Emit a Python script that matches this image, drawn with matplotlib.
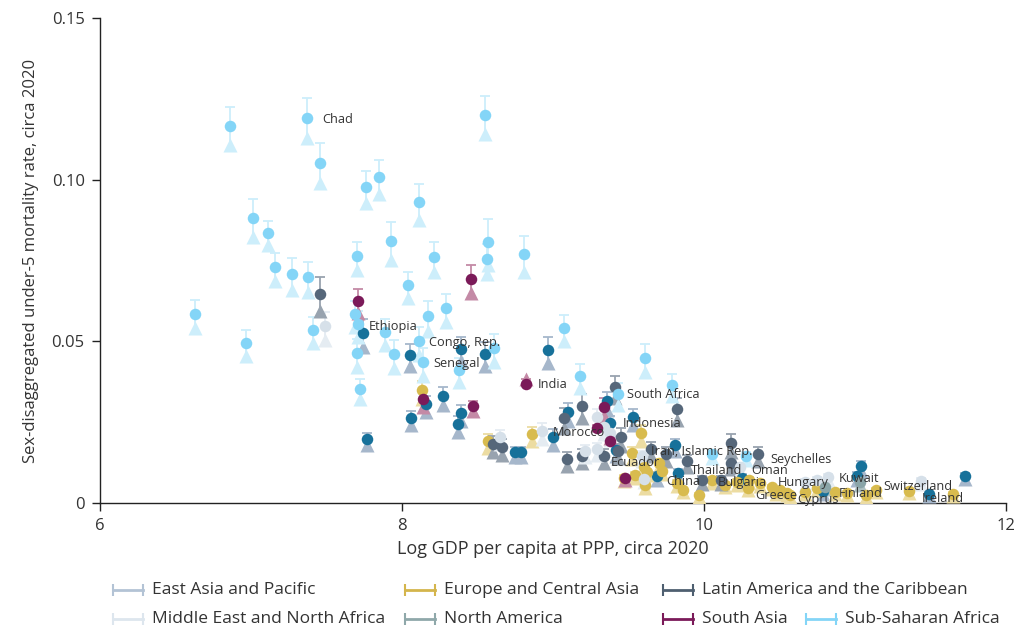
import matplotlib
matplotlib.use('Agg')
import matplotlib.pyplot as plt
from matplotlib.lines import Line2D
import numpy as np

plt.rcParams['font.family'] = ['Open Sans', 'DejaVu Sans']

# ---- data: log GDP per capita, circle (male) and triangle (female) rates ----
ssa_gdp = [6.63, 6.86, 6.97, 7.01, 7.11, 7.16, 7.27, 7.37, 7.38, 7.41, 7.46, 7.69, 7.70, 7.70,
           7.71, 7.72, 7.76, 7.85, 7.89, 7.93, 7.95, 8.04, 8.11, 8.11, 8.14, 8.17, 8.21, 8.29,
           8.38, 8.55, 8.56, 8.57, 8.61, 8.81, 9.07, 9.18, 9.43, 9.61, 9.79, 10.05, 10.28]
ssa_male = [.0585, .1166, .0495, .0882, .0835, .0730, .0708, .1191, .0699, .0535, .1052, .0585,
            .0764, .0464, .0554, .0353, .0977, .1008, .0529, .0810, .0461, .0674, .0931, .0501,
            .0436, .0578, .0761, .0603, .0411, .1200, .0755, .0807, .0479, .0770, .0541, .0393,
            .0337, .0449, .0365, .0152, .0145]
ssa_female = [.0541, .1107, .0455, .0823, .0798, .0687, .0659, .1129, .0653, .0495, .0990, .0544,
              .0721, .0421, .0513, .0322, .0928, .0956, .0489, .0752, .0418, .0634, .0875, .0458,
              .0393, .0532, .0714, .0560, .0374, .1141, .0708, .0736, .0436, .0714, .0501, .0356,
              .0303, .0405, .0331, .0139, .0133]

lac_gdp = [7.46, 9.19, 9.07, 8.60, 8.66, 9.09, 9.19, 9.41, 9.82, 9.45, 9.43, 9.34, 9.65, 9.75,
           9.89, 9.99, 10.11, 10.18, 10.18, 10.36]
lac_male = [.0646, .0300, .0263, .0182, .0173, .0136, .0145, .0359, .0291, .0204, .0161, .0145,
            .0167, .0152, .0130, .0071, .0071, .0186, .0124, .0152]
lac_female = [.0594, .0263, .0232, .0158, .0148, .0114, .0124, .0325, .0257, .0176, .0139, .0124,
              .0145, .0130, .0111, .0059, .0059, .0158, .0105, .0130]

eap_gdp = [7.74, 7.77, 8.05, 8.06, 8.16, 8.27, 8.37, 8.39, 8.39, 8.55, 8.97, 8.75, 8.79, 9.00,
           9.10, 9.36, 9.38, 9.53, 9.42, 9.81, 9.69, 9.83, 10.25, 11.04, 11.01, 11.73, 11.49, 10.79]
eap_male = [.0526, .0198, .0458, .0263, .0306, .0331, .0244, .0278, .0476, .0461, .0473, .0158,
            .0158, .0204, .0281, .0316, .0247, .0266, .0164, .0179, .0084, .0093, .0077, .0114,
            .0084, .0084, .0028, .0037]
eap_female = [.0483, .0179, .0424, .0241, .0281, .0303, .0220, .0254, .0439, .0424, .0433, .0142,
              .0142, .0179, .0254, .0288, .0226, .0241, .0145, .0161, .0071, .0080, .0065, .0099,
              .0071, .0074, .0022, .0028]

sa_gdp = [7.71, 8.46, 8.82, 8.14, 8.47, 9.34, 9.29, 9.38, 9.48]
sa_male = [.0625, .0693, .0368, .0322, .0300, .0297, .0232, .0192, .0077]
sa_female = [.0588, .0650, .0384, .0297, .0285, .0269, .0241, .0201, .0071]

eca_gdp = [8.13, 8.57, 8.86, 9.58, 9.47, 9.54, 9.62, 9.72, 9.82, 9.86, 9.97, 9.61, 9.52, 9.60,
           9.70, 10.05, 10.14, 10.22, 10.29, 10.30, 10.37, 10.45, 10.50, 10.55, 10.48, 10.57,
           10.67, 10.75, 10.87, 10.95, 11.07, 11.14, 11.36, 11.65]
eca_male = [.0350, .0192, .0213, .0217, .0077, .0087, .0096, .0099, .0062, .0040, .0025, .0056,
            .0155, .0111, .0124, .0071, .0056, .0065, .0046, .0071, .0062, .0049, .0040, .0031,
            .0034, .0025, .0034, .0046, .0034, .0031, .0025, .0040, .0037, .0028]
eca_female = [.0322, .0170, .0192, .0192, .0068, .0077, .0087, .0090, .0053, .0034, .0019, .0046,
              .0136, .0099, .0111, .0062, .0048, .0056, .0040, .0062, .0053, .0043, .0034, .0025,
              .0028, .0020, .0028, .0040, .0028, .0025, .0020, .0034, .0031, .0022]

mena_gdp = [7.49, 8.65, 8.93, 9.21, 9.29, 9.29, 9.34, 9.38, 9.59, 9.60, 10.24, 10.67, 10.75,
            10.82, 11.44]
mena_male = [.0547, .0204, .0223, .0161, .0167, .0266, .0235, .0217, .0145, .0074, .0111, .0065,
             .0071, .0080, .0068]
mena_female = [.0504, .0182, .0198, .0142, .0148, .0241, .0213, .0195, .0130, .0065, .0099,
               .0056, .0062, .0071, .0059]

na_gdp = [10.80, 11.03]
na_male = [.0049, .0065]
na_female = [.0043, .0056]

regions = [
    # name, gdp, male, female, circle colour, bar colour, legend colour
    ('East Asia and Pacific', eap_gdp, eap_male, eap_female, '#17719a', '#a6b7cb', '#b3c3d5'),
    ('Europe and Central Asia', eca_gdp, eca_male, eca_female, '#d8bb4e', '#ecdca2', '#d4b54c'),
    ('Latin America and the Caribbean', lac_gdp, lac_male, lac_female, '#56677a', '#98a3af', '#4e5f70'),
    ('Middle East and North Africa', mena_gdp, mena_male, mena_female, '#d6e0e9', '#e5ecf2', '#dde6ee'),
    ('North America', na_gdp, na_male, na_female, '#8aa5a8', '#aec1c3', '#8fa8aa'),
    ('South Asia', sa_gdp, sa_male, sa_female, '#7b1a59', '#c48aa6', '#7b1a59'),
    ('Sub-Saharan Africa', ssa_gdp, ssa_male, ssa_female, '#84d5f7', '#cdeefb', '#84d5f7'),
]

labels = [
    ('Chad', 7.47, 0.1185), ('Ethiopia', 7.78, 0.0547), ('Congo, Rep.', 8.18, 0.0495),
    ('Senegal', 8.21, 0.0430), ('India', 8.90, 0.0365), ('South Africa', 9.49, 0.0337),
    ('Indonesia', 9.46, 0.0246), ('Morocco', 9.00, 0.0219), ('Iran, Islamic Rep.', 9.65, 0.0158),
    ('Ecuador', 9.38, 0.0124), ('Thailand', 9.91, 0.0102), ('Oman', 10.31, 0.0099),
    ('Seychelles', 10.44, 0.0136), ('China', 9.75, 0.0068), ('Bulgaria', 10.09, 0.0062),
    ('Hungary', 10.49, 0.0062), ('Kuwait', 10.89, 0.0077), ('Greece', 10.34, 0.0023),
    ('Cyprus', 10.62, 0.0012), ('Finland', 10.89, 0.0028), ('Switzerland', 11.19, 0.0050),
    ('Ireland', 11.44, 0.0013),
]

fig = plt.figure(figsize=(10.15, 6.31), dpi=100)
ax = fig.add_axes([100 / 1015, 1 - 503 / 631, 906 / 1015, 485 / 631])

for name, gdp, male, female, c_circ, c_bar, c_leg in regions:
    x = np.array(gdp)
    m = np.array(male)
    f = np.array(female)
    top = m + np.abs(m - f)
    ax.vlines(x, np.minimum(m, f), top, color=c_bar, lw=1.3, zorder=2)
    ax.plot(x, top, ls='none', marker='_', ms=7, mew=1.3, color=c_bar, zorder=2)
    ax.plot(x, f, ls='none', marker='^', ms=9.5, color=c_bar, mec='none', zorder=3)

for name, gdp, male, female, c_circ, c_bar, c_leg in regions:
    ax.plot(gdp, male, ls='none', marker='o', ms=8.3, color=c_circ, mec='none', zorder=4)

for txt, lx, ly in labels:
    ax.text(lx, ly, txt, fontsize=9.2, color='#333333', va='center', ha='left', zorder=6)

ax.set_xlim(6, 12)
ax.set_ylim(0, 0.15)
ax.set_xticks([6, 8, 10, 12])
ax.set_yticks([0, 0.05, 0.10, 0.15])
ax.set_yticklabels(['0', '0.05', '0.10', '0.15'])
for s in ['top', 'right']:
    ax.spines[s].set_visible(False)
for s in ['left', 'bottom']:
    ax.spines[s].set_color('#222222')
    ax.spines[s].set_linewidth(1.0)
ax.tick_params(direction='out', length=6, width=1, colors='#222222', labelsize=12,
               labelcolor='#333333', pad=5)
ax.set_xlabel('Log GDP per capita at PPP, circa 2020', fontsize=13, color='#333333', labelpad=4)
ax.set_ylabel('Sex-disaggregated under-5 mortality rate, circa 2020', fontsize=12,
              color='#333333', labelpad=9)

# legend laid out in two ragged rows
leg_pos = [(113, 590), (405, 590), (663, 590), (113, 619), (405, 619), (663, 619), (806, 619)]
for (name, gdp, male, female, c_circ, c_bar, c_leg), (px, py) in zip(regions, leg_pos):
    fy = 1 - py / 631
    fig.add_artist(Line2D([px / 1015, (px + 30) / 1015], [fy, fy], color=c_leg, lw=2,
                          marker='|', ms=8, mew=1.5, transform=fig.transFigure))
    fig.text((px + 39) / 1015, fy, name, fontsize=12.5, color='#333333', va='center', ha='left')

fig.savefig('out.png', dpi=100)
